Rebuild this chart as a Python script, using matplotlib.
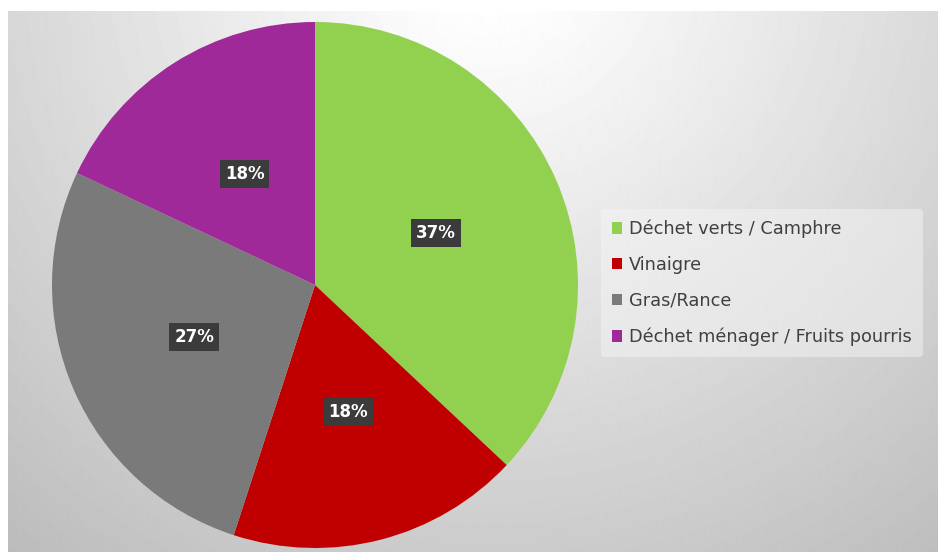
import numpy as np
import matplotlib.pyplot as plt

plt.rcParams["font.family"] = ["DejaVu Sans"]

labels = ["Déchet verts / Camphre", "Vinaigre", "Gras/Rance",
          "Déchet ménager / Fruits pourris"]
values = [37, 18, 27, 18]
colors = ["#92d050", "#c00000", "#7a7a7a", "#a0299a"]


def main():
    fig = plt.figure(figsize=(9.38, 5.52), dpi=100)

    # fond dégradé radial (clair en haut, gris vers les coins du bas)
    bg = fig.add_axes([8 / 938, 0, 930 / 938, 541 / 552])
    yy, xx = np.mgrid[0:541, 0:930]
    d = np.sqrt(((xx - 480) / 650.0) ** 2 + ((yy + 60) / 650.0) ** 2)
    shade = 1.02 - 0.24 * np.clip(d, 0, 1.2)
    bg.imshow(np.clip(shade, 0, 1), cmap="gray", vmin=0, vmax=1,
              aspect="auto", extent=[0, 1, 0, 1], origin="upper")
    bg.axis("off")

    ax = fig.add_axes([52 / 938, 4 / 552, 526 / 938, 526 / 552])
    wedges, texts, autotexts = ax.pie(
        values, colors=colors, startangle=90, counterclock=False,
        autopct="%1.0f%%", pctdistance=0.5,
        textprops=dict(color="white", fontsize=12, fontweight="bold"))
    for t in autotexts:
        t.set_bbox(dict(boxstyle="square,pad=0.3", facecolor="#3b3b3b",
                        edgecolor="none"))
    ax.set_xlim(-1, 1)
    ax.set_ylim(-1, 1)
    ax.set_aspect("equal")

    leg = fig.legend(wedges, labels, loc="center left",
                     bbox_to_anchor=(592 / 938, 1 - 283 / 552),
                     frameon=True, fontsize=12.8, labelcolor="#404040",
                     handlelength=0.6, handleheight=0.6, handletextpad=0.4,
                     labelspacing=1.0, borderpad=0.6)
    leg.get_frame().set_facecolor("#f4f4f4")
    leg.get_frame().set_alpha(0.5)
    leg.get_frame().set_edgecolor("none")

    fig.savefig("out.png", dpi=100)


if __name__ == '__main__':
    main()
